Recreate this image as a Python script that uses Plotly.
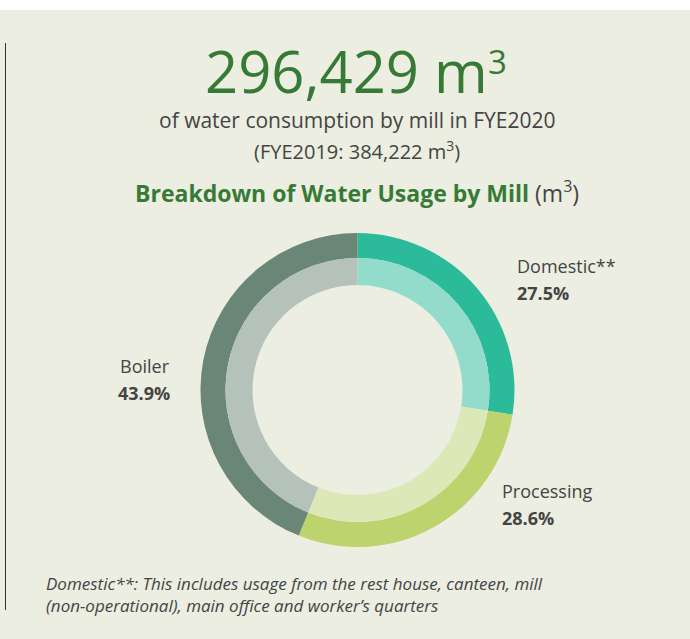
import plotly.graph_objects as go

categories = ["Domestic**", "Processing", "Boiler"]
shares = [27.5, 28.6, 43.9]
outer_colors = ["#2BBB9B", "#BCD36E", "#6A8676"]
inner_colors = ["#93DBCB", "#DCE8B8", "#B5C2BB"]

W, H = 690, 639
BG = "#EBEEE1"

def px(x):
    return x / W

def py(y):
    return 1 - y / H

cx, cy = 357.5, 390
r_out, r_mid, r_in = 157, 132, 105

fig = go.Figure()
fig.add_trace(go.Pie(
    labels=categories, values=shares, sort=False, direction="clockwise",
    rotation=0, hole=r_mid / r_out, textinfo="none", hoverinfo="label+percent",
    marker=dict(colors=outer_colors, line=dict(width=0)),
    domain=dict(x=[px(cx - r_out), px(cx + r_out)], y=[py(cy + r_out), py(cy - r_out)]),
    showlegend=False,
))
fig.add_trace(go.Pie(
    labels=categories, values=shares, sort=False, direction="clockwise",
    rotation=0, hole=r_in / r_mid, textinfo="none", hoverinfo="label+percent",
    marker=dict(colors=inner_colors, line=dict(width=0)),
    domain=dict(x=[px(cx - r_mid), px(cx + r_mid)], y=[py(cy + r_mid), py(cy - r_mid)]),
    showlegend=False,
))

FONT = "Open Sans"
GREEN = "#367A36"
GRAY = "#444444"

ann = []
ann.append(dict(x=px(490), y=py(70), xanchor="right", text="296,429 m",
                font=dict(family=FONT, size=58, color=GREEN)))
ann.append(dict(x=px(486), y=py(61), xanchor="left", text="3",
                font=dict(family=FONT, size=33, color=GREEN)))
ann.append(dict(x=px(357), y=py(120), text="of water consumption by mill in FYE2020",
                font=dict(family=FONT, size=21, color=GRAY)))
ann.append(dict(x=px(357), y=py(151), text="(FYE2019: 384,222 m<sup>3</sup>)",
                font=dict(family=FONT, size=20, color=GRAY)))
ann.append(dict(x=px(357), y=py(192),
                text="<b><span style='color:%s'>Breakdown of Water Usage by Mill</span></b> (m<sup>3</sup>)" % GREEN,
                font=dict(family=FONT, size=23, color=GRAY)))

label_pos = [(515, 266, "left"), (500, 491, "left"), (172, 366, "right")]
for (lx, ly, al), cat, s in zip(label_pos, categories, shares):
    ann.append(dict(x=px(lx), y=py(ly), xanchor=al, text=cat,
                    font=dict(family=FONT, size=18, color=GRAY)))
    ann.append(dict(x=px(lx), y=py(ly + 27), xanchor=al, text="<b>%.1f%%</b>" % s,
                    font=dict(family=FONT, size=18, color=GRAY)))

ann.append(dict(x=px(44), y=py(583), xanchor="left",
                text="<i>Domestic**: This includes usage from the rest house, canteen, mill</i>",
                font=dict(family=FONT, size=17, color=GRAY)))
ann.append(dict(x=px(44), y=py(605), xanchor="left",
                text="<i>(non-operational), main office and worker’s quarters</i>",
                font=dict(family=FONT, size=17, color=GRAY)))

for a in ann:
    a.setdefault("xanchor", "center")
    a.update(xref="paper", yref="paper", yanchor="middle", showarrow=False)

shapes = [
    dict(type="rect", xref="paper", yref="paper", x0=0, x1=1, y0=py(10), y1=1,
         fillcolor="white", line=dict(width=0), layer="below"),
    dict(type="line", xref="paper", yref="paper", x0=px(5.5), x1=px(5.5), y0=py(43), y1=py(610),
         line=dict(color="#333333", width=1)),
]

fig.update_layout(
    width=W, height=H, margin=dict(l=0, r=0, t=0, b=0),
    paper_bgcolor=BG, plot_bgcolor=BG,
    annotations=ann, shapes=shapes,
)

fig.write_html("out.html", config={"displayModeBar": False},
               post_script="document.body.style.margin='0';document.body.style.overflow='hidden';")
